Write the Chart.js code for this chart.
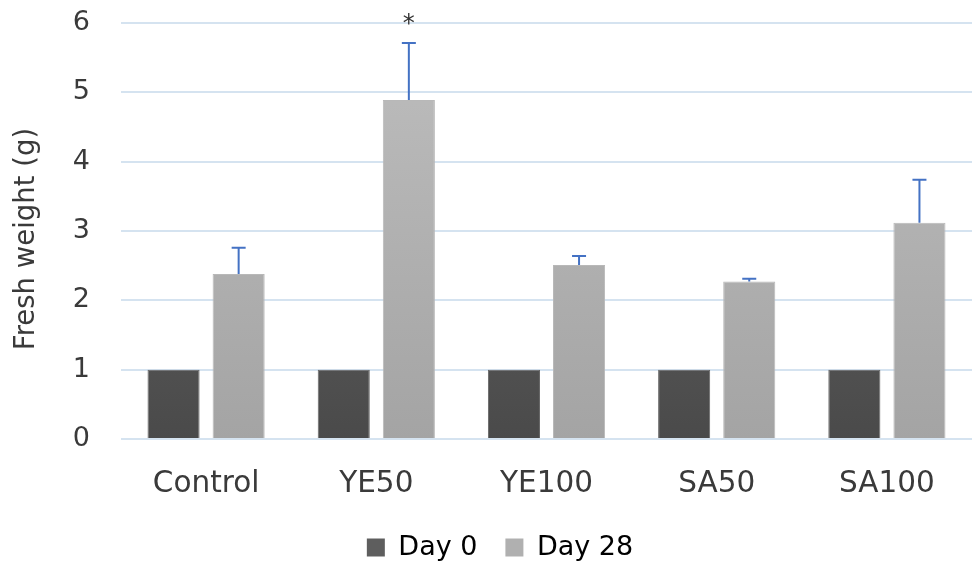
<!DOCTYPE html>
<html lang="en">
<head>
  <meta charset="UTF-8" />
  <title>Fresh weight</title>
  <script src="https://cdn.jsdelivr.net/npm/chart.js"></script>
  <style>
    body { margin: 0; background: white; }
    #wrap { width: 975px; height: 562px; position: relative; }
  </style>
</head>
<body>
  <div id="wrap"><canvas id="chart"></canvas></div>

  <script>
    const groups = ['Control', 'YE50', 'YE100', 'SA50', 'SA100'];
    const day0 = [1, 1, 1, 1, 1];
    const day28 = [2.38, 4.89, 2.51, 2.27, 3.12];
    const day28Err = [0.38, 0.82, 0.13, 0.04, 0.62];
    const starred = [false, true, false, false, false];
    const yTicks = [0, 1, 2, 3, 4, 5, 6];
    const yTitle = 'Fresh weight (g)';

    const fontFam = "'DejaVu Sans', sans-serif";
    const textColor = '#3a3a3a';

    function grad(ctx, top, bottom) {
      const area = ctx.chart.chartArea;
      if (!area) return bottom;
      const g = ctx.chart.ctx.createLinearGradient(0, area.top, 0, area.bottom);
      g.addColorStop(0, top);
      g.addColorStop(1, bottom);
      return g;
    }

    // error bars (upper only), significance star, y title
    const extras = {
      id: 'extras',
      afterLayout(chart) {
        // legend sits a bit right of centre in the original
        chart.legend.left += 14;
        chart.legend.right += 14;
      },
      afterDatasetsDraw(chart) {
        const c = chart.ctx;
        const y = chart.scales.y;
        const meta = chart.getDatasetMeta(1);
        c.save();
        c.strokeStyle = '#4472c4';
        c.lineWidth = 2;
        meta.data.forEach((bar, i) => {
          const top = y.getPixelForValue(day28[i] + day28Err[i]);
          const base = y.getPixelForValue(day28[i]);
          c.beginPath();
          c.moveTo(bar.x, base);
          c.lineTo(bar.x, top);
          c.moveTo(bar.x - 7, top);
          c.lineTo(bar.x + 7, top);
          c.stroke();
          if (starred[i]) {
            c.fillStyle = '#333';
            c.font = '24px ' + fontFam;
            c.textAlign = 'center';
            c.textBaseline = 'alphabetic';
            c.fillText('*', bar.x, top - 12);
          }
        });

        // y axis title
        const area = chart.chartArea;
        c.translate(34, (area.top + area.bottom) / 2 + 8);
        c.rotate(-Math.PI / 2);
        c.fillStyle = textColor;
        c.font = '27.5px ' + fontFam;
        c.textAlign = 'center';
        c.textBaseline = 'alphabetic';
        c.fillText(yTitle, 0, 0);
        c.restore();
      }
    };

    new Chart(document.getElementById('chart'), {
      type: 'bar',
      data: {
        labels: groups,
        datasets: [
          {
            label: 'Day 0',
            data: day0,
            backgroundColor: ctx => grad(ctx, '#6c6c6c', '#4a4a4a'),
            borderColor: '#666666',
            borderWidth: 1
          },
          {
            label: 'Day 28',
            data: day28,
            backgroundColor: ctx => grad(ctx, '#bebebe', '#a4a4a4'),
            borderColor: '#b8b8b8',
            borderWidth: 1
          }
        ]
      },
      options: {
        responsive: true,
        maintainAspectRatio: false,
        animation: false,
        categoryPercentage: 0.765,
        barPercentage: 0.8,
        layout: { padding: { top: 23, right: 3, left: 0, bottom: -9 } },
        plugins: {
          tooltip: { enabled: false },
          legend: {
            position: 'bottom',
            labels: {
              font: { family: fontFam, size: 27 },
              color: '#1f2a3a',
              boxWidth: 18,
              boxHeight: 18,
              padding: 28,
              generateLabels: () => [
                { text: 'Day 0', fillStyle: '#5e5e5e', strokeStyle: '#5e5e5e', lineWidth: 0, datasetIndex: 0 },
                { text: 'Day 28', fillStyle: '#b0b0b0', strokeStyle: '#b0b0b0', lineWidth: 0, datasetIndex: 1 }
              ]
            }
          }
        },
        scales: {
          x: {
            grid: { display: false },
            border: { display: false },
            afterFit: s => { s.height = 67; },
            ticks: { font: { family: fontFam, size: 29.5 }, color: textColor, padding: 20 }
          },
          y: {
            min: 0,
            max: 6,
            afterBuildTicks: s => { s.ticks = yTicks.map(v => ({ value: v })); },
            afterFit: s => { s.width = 121; s.paddingTop = 0; s.paddingBottom = 0; },
            grid: { color: '#d5e3f0', lineWidth: 2, drawTicks: false },
            border: { display: false },
            ticks: { font: { family: fontFam, size: 27 }, color: textColor, padding: 31 }
          }
        }
      },
      plugins: [extras]
    });
  </script>
</body>
</html>
